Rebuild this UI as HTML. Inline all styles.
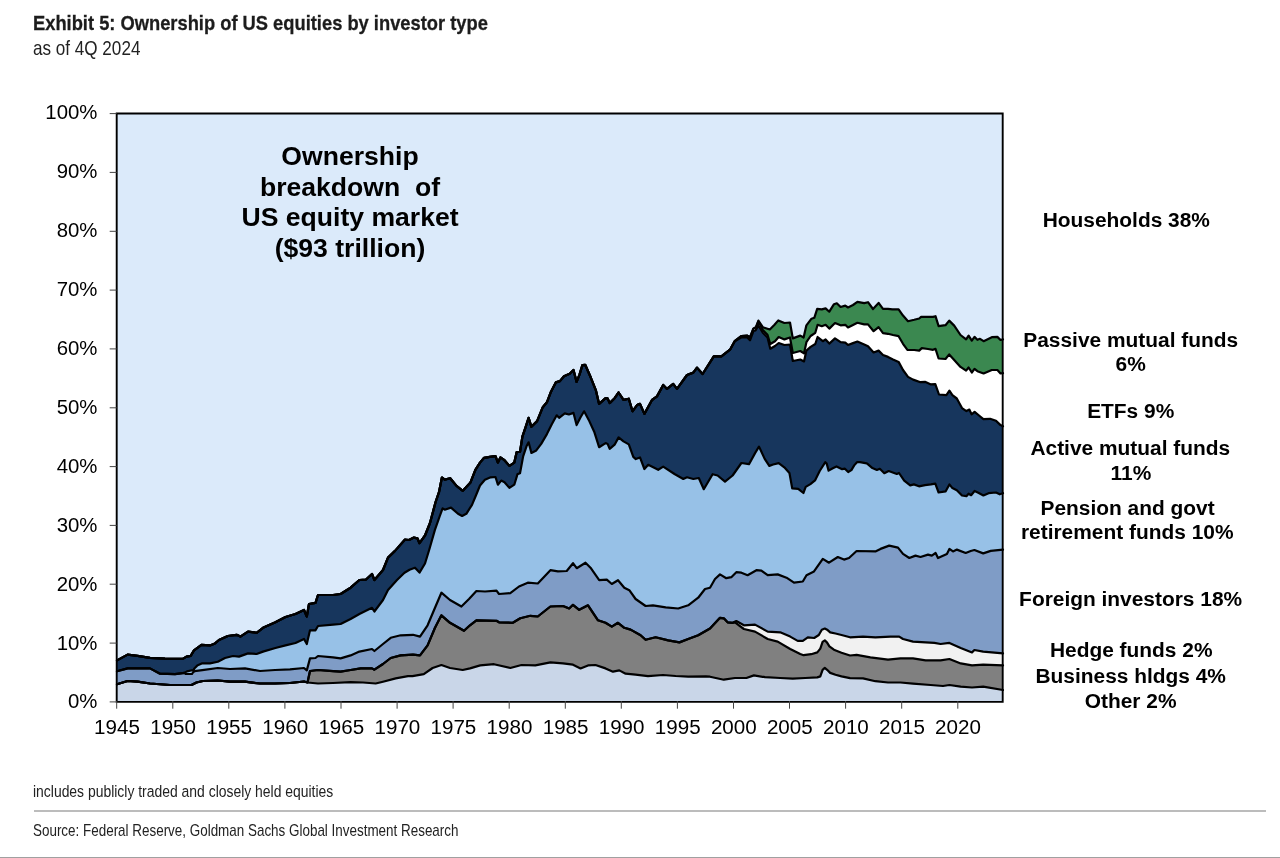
<!DOCTYPE html>
<html><head><meta charset="utf-8"><title>Exhibit 5</title>
<style>
html,body{margin:0;padding:0;background:#fff;}
body{width:1280px;height:858px;position:relative;overflow:hidden;font-family:"Liberation Sans",sans-serif;color:#222;}
.t{position:absolute;white-space:nowrap;transform-origin:0 0;}
#title{left:32.6px;top:11.1px;font-size:21px;line-height:24px;font-weight:bold;transform:scaleX(.872);color:#1c1c1c;-webkit-text-stroke:.3px #1c1c1c;}
#sub{left:32.8px;top:36.3px;font-size:20.8px;line-height:24px;transform:scaleX(.822);color:#222;}
#note{left:33.3px;top:780.5px;font-size:17.2px;line-height:20px;transform:scaleX(.81);color:#222;}
#src{left:33.3px;top:820.5px;font-size:17px;line-height:20px;transform:scaleX(.79);color:#222;}
#hr1{position:absolute;left:33.5px;top:810.4px;width:1232.5px;height:1.6px;background:#bcbcbc;}
#hr2{position:absolute;left:0;top:856.8px;width:1280px;height:1.2px;background:#a0a0a0;}
svg{position:absolute;left:0;top:0;}
svg text{font-family:"Liberation Sans",sans-serif;fill:#000;}
.ax text{font-size:19.4px;}
.ax text.xl{font-size:20px;}
.big text{font-size:26.2px;font-weight:bold;}
.lab text{font-size:19.4px;font-weight:bold;}
</style></head><body>
<div id="title" class="t">Exhibit 5: Ownership of US equities by investor type</div>
<div id="sub" class="t">as of 4Q 2024</div>
<svg width="1280" height="858" viewBox="0 0 1280 858">
<rect x="117" y="113" width="886" height="588" fill="#dbeafa"/>
<polygon fill="#3b8850" points="117.0,660.4 127.6,654.6 137.6,655.9 150.0,657.9 165.0,658.6 182.7,658.9 186.5,656.6 190.7,655.9 194.0,650.4 201.5,644.9 210.0,645.4 215.0,643.4 219.0,640.0 227.8,636.0 236.6,634.8 240.4,636.6 248.0,631.6 256.6,632.8 263.0,627.8 275.4,622.3 285.5,617.0 295.5,614.0 304.0,610.0 306.8,616.5 309.0,604.0 315.5,602.8 318.0,595.0 333.0,595.0 340.6,594.0 350.6,587.7 359.4,580.0 365.7,579.7 372.0,574.0 374.4,580.0 383.0,570.0 388.0,557.6 395.0,550.9 404.8,539.7 409.0,540.0 413.9,537.6 417.4,538.3 419.5,543.2 425.0,535.5 430.0,523.0 435.6,502.0 439.0,492.2 441.9,477.5 444.7,479.6 450.2,478.2 456.5,485.9 462.8,490.8 470.5,482.4 475.4,469.8 480.0,462.6 484.1,457.8 489.8,456.9 495.5,456.1 497.9,462.6 500.4,457.4 504.5,460.2 509.4,465.9 514.3,462.6 516.7,452.0 520.0,452.0 522.4,436.6 525.7,426.8 528.6,417.8 531.4,426.8 537.1,421.1 542.8,407.2 546.9,402.3 551.0,391.7 555.8,382.4 559.9,381.1 564.0,376.2 569.7,373.8 573.5,370.0 576.6,381.9 579.5,374.6 582.4,365.1 585.2,364.8 590.9,377.8 595.8,390.1 599.1,403.9 605.6,398.2 607.6,398.4 609.7,403.1 614.6,398.2 618.6,392.5 623.5,399.9 628.8,398.7 632.5,411.3 637.4,404.7 640.0,403.9 644.4,413.9 652.0,400.0 657.0,396.4 663.2,385.0 667.0,388.9 673.2,383.9 677.0,388.9 687.0,375.0 693.3,372.6 697.0,367.6 702.6,374.0 713.8,356.4 721.4,356.4 730.0,349.7 734.7,341.2 741.2,336.0 747.3,335.6 750.0,337.5 753.4,328.6 756.0,327.2 758.4,320.6 762.8,327.2 769.8,329.5 774.5,324.8 778.3,320.4 784.4,323.0 790.0,322.5 792.8,338.4 800.3,335.6 803.6,337.5 806.4,325.3 811.5,318.7 814.3,317.8 817.2,308.9 821.8,309.4 825.6,308.4 829.3,311.7 834.0,304.2 836.8,303.3 840.6,307.0 845.3,305.6 848.0,307.5 853.0,305.0 857.4,301.9 864.2,303.1 868.0,302.2 873.0,309.0 878.6,302.9 883.0,308.8 888.0,308.8 892.4,309.4 898.6,309.4 903.0,315.6 908.0,321.2 914.2,319.8 919.2,318.5 921.1,316.9 928.0,316.9 933.0,316.9 935.5,316.2 938.6,326.2 945.5,325.2 949.2,320.6 954.2,325.6 960.5,335.0 966.1,339.4 968.6,335.6 971.8,340.6 974.5,336.9 977.4,339.8 980.0,338.8 983.6,341.2 991.8,337.2 997.4,336.9 1000.5,340.0 1003.0,339.4 1003,701 117,701"/>
<polygon fill="#ffffff" points="117.0,660.4 127.6,654.6 137.6,655.9 150.0,657.9 165.0,658.6 182.7,658.9 186.5,656.6 190.7,655.9 194.0,650.4 201.5,644.9 210.0,645.4 215.0,643.4 219.0,640.0 227.8,636.0 236.6,634.8 240.4,636.6 248.0,631.6 256.6,632.8 263.0,627.8 275.4,622.3 285.5,617.0 295.5,614.0 304.0,610.0 306.8,616.5 309.0,604.0 315.5,602.8 318.0,595.0 333.0,595.0 340.6,594.0 350.6,587.7 359.4,580.0 365.7,579.7 372.0,574.0 374.4,580.0 383.0,570.0 388.0,557.6 395.0,550.9 404.8,539.7 409.0,540.0 413.9,537.6 417.4,538.3 419.5,543.2 425.0,535.5 430.0,523.0 435.6,502.0 439.0,492.2 441.9,477.5 444.7,479.6 450.2,478.2 456.5,485.9 462.8,490.8 470.5,482.4 475.4,469.8 480.0,462.6 484.1,457.8 489.8,456.9 495.5,456.1 497.9,462.6 500.4,457.4 504.5,460.2 509.4,465.9 514.3,462.6 516.7,452.0 520.0,452.0 522.4,436.6 525.7,426.8 528.6,417.8 531.4,426.8 537.1,421.1 542.8,407.2 546.9,402.3 551.0,391.7 555.8,382.4 559.9,381.1 564.0,376.2 569.7,373.8 573.5,370.0 576.6,381.9 579.5,374.6 582.4,365.1 585.2,364.8 590.9,377.8 595.8,390.1 599.1,403.9 605.6,398.2 607.6,398.4 609.7,403.1 614.6,398.2 618.6,392.5 623.5,399.9 628.8,398.7 632.5,411.3 637.4,404.7 640.0,403.9 644.4,413.9 652.0,400.0 657.0,396.4 663.2,385.0 667.0,388.9 673.2,383.9 677.0,388.9 687.0,375.0 693.3,372.6 697.0,367.6 702.6,374.0 713.8,356.4 721.4,356.4 730.0,349.7 734.7,341.2 741.2,336.0 747.3,335.6 750.0,337.5 753.4,328.6 756.0,327.2 758.4,321.5 762.8,330.0 767.5,334.7 770.3,344.0 775.0,341.2 778.7,337.0 784.4,339.4 790.0,337.5 792.8,353.0 800.3,351.0 804.0,353.4 806.4,342.2 810.6,336.0 815.3,332.8 817.6,324.8 821.8,326.2 825.6,324.8 829.3,328.6 835.0,323.0 840.6,325.3 845.3,324.8 848.0,327.5 853.0,325.0 857.4,322.8 864.2,324.4 868.0,324.4 873.6,331.2 878.6,327.2 883.0,333.1 888.0,333.8 893.0,335.0 898.6,336.2 903.0,343.8 907.4,349.8 914.2,350.0 919.2,350.6 921.8,348.1 928.0,349.0 933.0,349.8 935.5,348.8 938.6,358.5 945.5,359.0 949.2,354.4 954.2,360.0 960.5,366.9 966.1,370.6 968.6,367.5 971.8,372.5 974.5,368.8 977.4,371.2 983.6,373.5 991.8,370.0 997.4,370.0 1000.5,373.5 1003.0,373.1 1003,701 117,701"/>
<polygon fill="#17365d" points="117.0,660.4 127.6,654.6 137.6,655.9 150.0,657.9 165.0,658.6 182.7,658.9 186.5,656.6 190.7,655.9 194.0,650.4 201.5,644.9 210.0,645.4 215.0,643.4 219.0,640.0 227.8,636.0 236.6,634.8 240.4,636.6 248.0,631.6 256.6,632.8 263.0,627.8 275.4,622.3 285.5,617.0 295.5,614.0 304.0,610.0 306.8,616.5 309.0,604.0 315.5,602.8 318.0,595.0 333.0,595.0 340.6,594.0 350.6,587.7 359.4,580.0 365.7,579.7 372.0,574.0 374.4,580.0 383.0,570.0 388.0,557.6 395.0,550.9 404.8,539.7 409.0,540.0 413.9,537.6 417.4,538.3 419.5,543.2 425.0,535.5 430.0,523.0 435.6,502.0 439.0,492.2 441.9,477.5 444.7,479.6 450.2,478.2 456.5,485.9 462.8,490.8 470.5,482.4 475.4,469.8 480.0,462.6 484.1,457.8 489.8,456.9 495.5,456.1 497.9,462.6 500.4,457.4 504.5,460.2 509.4,465.9 514.3,462.6 516.7,452.0 520.0,452.0 522.4,436.6 525.7,426.8 528.6,417.8 531.4,426.8 537.1,421.1 542.8,407.2 546.9,402.3 551.0,391.7 555.8,382.4 559.9,381.1 564.0,376.2 569.7,373.8 573.5,370.0 576.6,381.9 579.5,374.6 582.4,365.1 585.2,364.8 590.9,377.8 595.8,390.1 599.1,403.9 605.6,398.2 607.6,398.4 609.7,403.1 614.6,398.2 618.6,392.5 623.5,399.9 628.8,398.7 632.5,411.3 637.4,404.7 640.0,403.9 644.4,413.9 652.0,400.0 657.0,396.4 663.2,385.0 667.0,388.9 673.2,383.9 677.0,388.9 687.0,375.0 693.3,372.6 697.0,367.6 702.6,374.0 713.8,356.4 721.4,356.4 730.0,349.7 734.7,341.2 741.2,337.5 747.3,337.5 750.0,340.3 753.4,331.0 755.5,330.5 758.4,325.5 762.8,332.8 767.5,337.5 770.3,348.7 775.0,346.0 778.7,343.0 784.4,345.0 790.0,344.5 792.8,361.0 800.3,359.5 804.0,361.4 806.4,350.6 810.6,346.9 815.3,344.0 817.6,337.0 822.8,341.2 825.6,339.4 829.3,343.6 835.0,338.4 840.6,342.2 845.3,342.6 848.0,345.0 853.0,343.1 857.4,341.5 864.2,344.4 868.0,346.2 873.6,352.5 878.6,350.6 883.0,355.0 888.0,356.9 893.0,359.4 898.6,361.9 903.0,370.0 908.0,376.9 913.1,379.6 920.5,382.2 925.0,381.8 930.9,384.4 935.3,384.1 939.0,394.5 946.4,395.2 949.4,390.7 952.4,395.2 956.8,398.5 962.0,408.1 966.4,411.1 969.4,409.6 971.6,414.3 974.6,411.8 979.0,415.5 983.4,419.2 990.1,418.8 996.0,420.7 1000.5,425.1 1003.0,426.2 1003,701 117,701"/>
<polygon fill="#97c1e7" points="117.0,671.2 127.6,668.4 150.0,668.4 160.0,673.7 175.0,674.2 184.4,672.9 187.0,671.4 192.0,670.3 193.3,670.3 194.6,668.2 197.2,665.6 202.3,663.3 210.0,663.4 217.8,661.7 225.0,658.0 233.0,656.0 239.0,656.6 248.0,653.4 256.6,654.0 263.0,651.6 275.4,648.0 285.5,645.4 295.5,643.0 304.0,639.0 306.8,644.0 310.0,630.3 315.5,630.3 318.0,626.0 333.0,624.6 340.6,624.0 350.6,619.0 359.4,614.0 372.0,607.8 374.4,611.5 383.0,600.0 388.0,590.0 397.0,580.0 404.5,572.7 409.5,569.7 415.0,567.7 419.5,572.6 425.0,563.5 429.3,549.5 434.9,529.9 439.8,516.0 442.6,508.3 444.7,509.7 451.0,507.6 458.0,513.8 462.1,516.0 466.3,513.8 472.0,504.8 476.1,495.0 480.0,485.5 484.9,479.8 490.6,477.3 495.5,477.0 497.9,484.7 501.2,480.6 504.5,482.2 509.4,487.9 514.3,484.7 517.5,474.1 520.0,473.3 523.2,456.1 526.5,446.3 528.6,442.3 531.4,452.9 536.3,450.4 541.2,443.9 546.9,434.1 551.8,424.3 556.7,415.3 559.1,417.8 564.8,413.4 568.9,414.5 573.5,412.9 576.6,425.1 580.3,417.8 584.1,411.3 589.3,421.1 594.2,431.7 599.1,447.2 605.6,443.1 607.6,443.9 609.7,448.8 614.6,444.7 618.6,437.4 623.5,441.4 628.8,444.4 633.3,456.9 635.8,459.1 640.0,457.4 644.4,469.0 648.2,464.8 658.2,469.8 663.2,466.6 674.5,474.0 683.3,479.0 687.0,477.3 693.3,479.0 698.8,478.0 703.8,489.2 712.6,474.2 717.6,475.5 725.0,481.7 732.6,475.5 741.4,463.0 749.0,464.2 755.2,452.9 759.0,446.6 760.0,448.7 764.7,458.9 769.3,465.9 773.1,464.5 778.7,463.1 784.3,467.3 789.4,472.9 792.2,488.3 798.2,488.8 803.4,493.0 805.7,486.9 810.4,484.1 815.0,480.4 819.7,471.0 825.3,462.2 826.7,463.6 828.6,470.6 832.8,468.2 836.5,466.4 842.1,469.2 844.9,468.7 848.2,472.0 851.4,470.1 854.2,465.4 857.0,462.2 860.0,462.2 866.7,463.4 867.2,463.6 872.4,468.1 876.9,470.0 879.8,468.8 884.3,473.2 888.7,471.0 896.8,474.0 899.0,473.0 904.2,480.7 910.2,485.4 913.9,484.4 919.0,486.3 925.0,485.1 930.9,484.4 935.3,483.6 938.6,492.5 945.7,491.3 949.4,484.4 952.4,488.1 956.8,490.3 962.0,495.5 966.4,496.2 968.6,493.7 971.1,495.2 974.6,491.0 978.3,492.8 983.4,495.5 988.6,493.2 996.0,492.5 999.7,494.3 1003.0,493.2 1003,701 117,701"/>
<polygon fill="#7f9cc6" points="117.0,671.2 127.6,668.4 150.0,668.4 160.0,673.7 175.0,674.2 184.4,672.9 185.6,674.0 192.0,674.0 193.3,672.0 194.6,671.2 202.3,670.1 217.8,668.0 230.0,669.0 245.0,668.4 260.0,671.0 275.0,670.0 290.0,669.4 304.0,668.0 306.8,670.4 310.0,658.4 315.5,658.0 318.0,656.0 333.0,657.4 340.6,658.4 350.6,655.4 359.4,651.6 372.0,649.0 374.4,651.0 383.0,644.0 390.7,637.8 400.7,635.3 413.0,634.8 420.0,636.6 427.6,625.3 435.0,607.8 441.4,592.7 450.0,600.0 461.4,606.5 469.0,599.0 476.4,591.0 485.0,591.5 496.5,590.7 499.0,594.0 510.3,593.2 519.0,586.5 527.8,582.7 537.8,583.5 550.4,570.2 557.9,571.4 566.7,571.0 573.0,563.2 576.7,568.2 585.5,562.7 590.5,567.7 599.2,580.2 606.8,579.7 611.8,584.0 618.0,580.2 624.3,587.7 629.3,590.2 635.6,599.0 645.6,606.0 653.0,605.3 665.7,607.3 678.2,608.5 688.2,605.3 698.2,597.7 705.0,589.0 710.0,587.7 715.0,579.0 720.0,574.4 726.3,578.2 731.3,577.2 736.3,572.2 741.4,572.7 747.6,575.2 756.4,570.2 761.4,570.7 767.7,575.2 777.7,574.4 786.5,577.7 794.0,582.7 802.8,581.5 806.5,575.2 814.0,571.4 822.8,558.9 829.0,562.7 837.8,557.0 844.0,559.6 849.0,558.0 856.6,551.0 875.4,551.4 880.5,548.9 889.2,545.6 898.0,547.6 903.0,553.9 909.3,558.0 915.5,555.6 920.5,557.0 928.0,554.6 931.8,555.6 935.6,553.0 938.0,558.0 946.9,553.9 949.4,548.9 953.0,551.4 956.9,549.6 965.7,553.0 970.7,551.0 974.4,550.0 983.2,553.4 990.7,550.9 1003.0,549.6 1003,701 117,701"/>
<polygon fill="#f1f1f1" points="117.0,684.2 127.6,681.0 137.6,681.7 150.0,683.5 170.0,685.0 191.5,685.0 196.5,682.5 202.8,681.0 217.8,680.5 230.0,681.7 245.0,681.7 260.0,683.5 275.0,683.5 290.0,683.0 304.0,681.5 307.5,682.5 310.0,671.0 318.0,670.0 333.0,671.2 340.6,671.7 350.6,670.0 360.7,668.4 372.0,668.4 374.4,669.7 383.0,664.0 390.7,658.0 400.7,655.4 413.0,654.6 420.0,655.4 427.6,645.4 435.0,627.8 441.4,615.3 450.0,622.8 464.0,630.8 470.0,625.3 476.4,620.3 496.5,620.8 499.0,622.3 512.8,622.8 520.3,618.3 530.3,615.8 537.8,616.5 550.4,606.5 563.0,606.0 569.2,608.5 573.0,604.8 579.2,609.8 588.0,605.3 598.0,620.3 605.5,622.8 611.8,626.6 618.0,622.8 624.3,627.8 630.6,629.6 640.6,635.3 645.6,639.8 655.6,637.3 668.2,640.4 679.4,642.4 688.2,639.0 698.2,635.3 710.0,628.5 720.0,617.8 723.8,618.3 727.6,622.3 732.6,622.8 736.3,621.0 743.9,625.3 755.0,624.6 767.7,631.6 780.2,632.3 790.2,636.6 797.7,640.9 802.8,640.9 807.8,637.3 814.2,638.0 818.8,635.0 821.8,629.7 824.8,628.5 827.1,629.7 830.2,632.4 835.5,633.5 841.5,635.0 850.0,637.3 863.0,636.6 875.4,637.3 890.5,636.6 899.2,636.6 903.0,639.0 913.0,641.6 925.6,642.4 934.4,642.9 940.6,644.0 949.4,642.9 960.7,647.9 972.0,652.4 974.4,650.0 983.2,651.6 1003.0,653.4 1003,701 117,701"/>
<polygon fill="#808080" points="117.0,684.2 127.6,681.0 137.6,681.7 150.0,683.5 170.0,685.0 191.5,685.0 196.5,682.5 202.8,681.0 217.8,680.5 230.0,681.7 245.0,681.7 260.0,683.5 275.0,683.5 290.0,683.0 304.0,681.5 307.5,682.5 310.0,671.0 318.0,670.0 333.0,671.2 340.6,671.7 350.6,670.0 360.7,668.4 372.0,668.4 374.4,669.7 383.0,664.0 390.7,658.0 400.7,655.4 413.0,654.6 420.0,655.4 427.6,645.4 435.0,627.8 441.4,615.3 450.0,622.8 464.0,630.8 470.0,625.3 476.4,620.3 496.5,620.8 499.0,622.3 512.8,622.8 520.3,618.3 530.3,615.8 537.8,616.5 550.4,606.5 563.0,606.0 569.2,608.5 573.0,604.8 579.2,609.8 588.0,605.3 598.0,620.3 605.5,622.8 611.8,626.6 618.0,622.8 624.3,627.8 630.6,629.6 640.6,635.3 645.6,639.8 655.6,637.3 668.2,640.4 679.4,642.4 688.2,639.0 698.2,635.3 710.0,628.5 720.0,617.8 723.8,618.3 727.6,622.3 732.6,622.8 735.0,622.3 743.9,629.0 755.0,631.6 767.7,639.0 777.7,641.6 790.2,649.0 800.2,654.0 803.6,655.2 811.2,654.2 817.3,652.4 820.3,648.6 822.6,641.8 824.8,640.3 827.1,642.6 829.4,646.4 833.9,649.7 841.5,652.7 850.0,655.5 856.6,654.9 870.4,657.4 888.0,659.6 900.5,658.4 913.0,658.4 925.6,660.4 940.6,660.4 949.4,659.0 960.7,663.4 972.0,665.4 983.2,664.7 1003.0,665.4 1003,701 117,701"/>
<polygon fill="#c9d6e8" points="117.0,684.2 127.6,681.0 137.6,681.7 150.0,683.5 170.0,685.0 191.5,685.0 196.5,682.5 202.8,681.0 217.8,680.5 230.0,681.7 245.0,681.7 260.0,683.5 275.0,683.5 290.0,683.0 304.0,681.5 307.5,682.5 318.0,683.5 333.0,683.0 350.6,682.2 363.0,682.5 375.7,683.5 383.0,681.7 395.7,678.4 408.0,676.2 412.5,676.2 423.8,674.2 432.6,668.0 441.4,665.0 450.0,668.0 462.7,670.0 470.0,668.4 480.2,665.4 494.0,664.2 510.3,668.0 521.5,665.0 535.3,665.4 550.4,662.4 563.0,663.4 573.0,664.7 580.5,668.4 588.0,665.4 595.5,665.0 605.5,668.4 613.0,671.7 619.3,670.4 625.6,673.7 635.6,674.7 648.0,676.2 663.0,675.0 675.7,676.0 688.2,676.7 705.8,676.4 710.0,676.7 723.8,679.7 735.0,678.0 746.4,678.0 753.9,675.4 765.0,677.2 780.2,678.0 792.7,678.7 805.3,678.0 817.3,677.4 820.3,676.4 822.6,669.8 824.8,667.9 827.1,669.8 830.2,672.9 835.5,674.8 841.5,676.4 850.0,678.2 863.0,678.4 875.4,681.2 888.0,682.5 900.5,682.5 913.0,683.7 930.6,685.0 943.0,686.0 949.4,685.0 960.7,686.7 972.0,687.5 983.2,686.7 1003.0,690.0 1003,701 117,701"/>
<g fill="none" stroke="#000" stroke-width="2.2" stroke-linejoin="round" stroke-linecap="round">
<polyline points="117.0,660.4 127.6,654.6 137.6,655.9 150.0,657.9 165.0,658.6 182.7,658.9 186.5,656.6 190.7,655.9 194.0,650.4 201.5,644.9 210.0,645.4 215.0,643.4 219.0,640.0 227.8,636.0 236.6,634.8 240.4,636.6 248.0,631.6 256.6,632.8 263.0,627.8 275.4,622.3 285.5,617.0 295.5,614.0 304.0,610.0 306.8,616.5 309.0,604.0 315.5,602.8 318.0,595.0 333.0,595.0 340.6,594.0 350.6,587.7 359.4,580.0 365.7,579.7 372.0,574.0 374.4,580.0 383.0,570.0 388.0,557.6 395.0,550.9 404.8,539.7 409.0,540.0 413.9,537.6 417.4,538.3 419.5,543.2 425.0,535.5 430.0,523.0 435.6,502.0 439.0,492.2 441.9,477.5 444.7,479.6 450.2,478.2 456.5,485.9 462.8,490.8 470.5,482.4 475.4,469.8 480.0,462.6 484.1,457.8 489.8,456.9 495.5,456.1 497.9,462.6 500.4,457.4 504.5,460.2 509.4,465.9 514.3,462.6 516.7,452.0 520.0,452.0 522.4,436.6 525.7,426.8 528.6,417.8 531.4,426.8 537.1,421.1 542.8,407.2 546.9,402.3 551.0,391.7 555.8,382.4 559.9,381.1 564.0,376.2 569.7,373.8 573.5,370.0 576.6,381.9 579.5,374.6 582.4,365.1 585.2,364.8 590.9,377.8 595.8,390.1 599.1,403.9 605.6,398.2 607.6,398.4 609.7,403.1 614.6,398.2 618.6,392.5 623.5,399.9 628.8,398.7 632.5,411.3 637.4,404.7 640.0,403.9 644.4,413.9 652.0,400.0 657.0,396.4 663.2,385.0 667.0,388.9 673.2,383.9 677.0,388.9 687.0,375.0 693.3,372.6 697.0,367.6 702.6,374.0 713.8,356.4 721.4,356.4 730.0,349.7 734.7,341.2 741.2,336.0 747.3,335.6 750.0,337.5 753.4,328.6 756.0,327.2 758.4,320.6 762.8,327.2 769.8,329.5 774.5,324.8 778.3,320.4 784.4,323.0 790.0,322.5 792.8,338.4 800.3,335.6 803.6,337.5 806.4,325.3 811.5,318.7 814.3,317.8 817.2,308.9 821.8,309.4 825.6,308.4 829.3,311.7 834.0,304.2 836.8,303.3 840.6,307.0 845.3,305.6 848.0,307.5 853.0,305.0 857.4,301.9 864.2,303.1 868.0,302.2 873.0,309.0 878.6,302.9 883.0,308.8 888.0,308.8 892.4,309.4 898.6,309.4 903.0,315.6 908.0,321.2 914.2,319.8 919.2,318.5 921.1,316.9 928.0,316.9 933.0,316.9 935.5,316.2 938.6,326.2 945.5,325.2 949.2,320.6 954.2,325.6 960.5,335.0 966.1,339.4 968.6,335.6 971.8,340.6 974.5,336.9 977.4,339.8 980.0,338.8 983.6,341.2 991.8,337.2 997.4,336.9 1000.5,340.0 1003.0,339.4"/>
<polyline points="117.0,660.4 127.6,654.6 137.6,655.9 150.0,657.9 165.0,658.6 182.7,658.9 186.5,656.6 190.7,655.9 194.0,650.4 201.5,644.9 210.0,645.4 215.0,643.4 219.0,640.0 227.8,636.0 236.6,634.8 240.4,636.6 248.0,631.6 256.6,632.8 263.0,627.8 275.4,622.3 285.5,617.0 295.5,614.0 304.0,610.0 306.8,616.5 309.0,604.0 315.5,602.8 318.0,595.0 333.0,595.0 340.6,594.0 350.6,587.7 359.4,580.0 365.7,579.7 372.0,574.0 374.4,580.0 383.0,570.0 388.0,557.6 395.0,550.9 404.8,539.7 409.0,540.0 413.9,537.6 417.4,538.3 419.5,543.2 425.0,535.5 430.0,523.0 435.6,502.0 439.0,492.2 441.9,477.5 444.7,479.6 450.2,478.2 456.5,485.9 462.8,490.8 470.5,482.4 475.4,469.8 480.0,462.6 484.1,457.8 489.8,456.9 495.5,456.1 497.9,462.6 500.4,457.4 504.5,460.2 509.4,465.9 514.3,462.6 516.7,452.0 520.0,452.0 522.4,436.6 525.7,426.8 528.6,417.8 531.4,426.8 537.1,421.1 542.8,407.2 546.9,402.3 551.0,391.7 555.8,382.4 559.9,381.1 564.0,376.2 569.7,373.8 573.5,370.0 576.6,381.9 579.5,374.6 582.4,365.1 585.2,364.8 590.9,377.8 595.8,390.1 599.1,403.9 605.6,398.2 607.6,398.4 609.7,403.1 614.6,398.2 618.6,392.5 623.5,399.9 628.8,398.7 632.5,411.3 637.4,404.7 640.0,403.9 644.4,413.9 652.0,400.0 657.0,396.4 663.2,385.0 667.0,388.9 673.2,383.9 677.0,388.9 687.0,375.0 693.3,372.6 697.0,367.6 702.6,374.0 713.8,356.4 721.4,356.4 730.0,349.7 734.7,341.2 741.2,336.0 747.3,335.6 750.0,337.5 753.4,328.6 756.0,327.2 758.4,321.5 762.8,330.0 767.5,334.7 770.3,344.0 775.0,341.2 778.7,337.0 784.4,339.4 790.0,337.5 792.8,353.0 800.3,351.0 804.0,353.4 806.4,342.2 810.6,336.0 815.3,332.8 817.6,324.8 821.8,326.2 825.6,324.8 829.3,328.6 835.0,323.0 840.6,325.3 845.3,324.8 848.0,327.5 853.0,325.0 857.4,322.8 864.2,324.4 868.0,324.4 873.6,331.2 878.6,327.2 883.0,333.1 888.0,333.8 893.0,335.0 898.6,336.2 903.0,343.8 907.4,349.8 914.2,350.0 919.2,350.6 921.8,348.1 928.0,349.0 933.0,349.8 935.5,348.8 938.6,358.5 945.5,359.0 949.2,354.4 954.2,360.0 960.5,366.9 966.1,370.6 968.6,367.5 971.8,372.5 974.5,368.8 977.4,371.2 983.6,373.5 991.8,370.0 997.4,370.0 1000.5,373.5 1003.0,373.1"/>
<polyline points="117.0,660.4 127.6,654.6 137.6,655.9 150.0,657.9 165.0,658.6 182.7,658.9 186.5,656.6 190.7,655.9 194.0,650.4 201.5,644.9 210.0,645.4 215.0,643.4 219.0,640.0 227.8,636.0 236.6,634.8 240.4,636.6 248.0,631.6 256.6,632.8 263.0,627.8 275.4,622.3 285.5,617.0 295.5,614.0 304.0,610.0 306.8,616.5 309.0,604.0 315.5,602.8 318.0,595.0 333.0,595.0 340.6,594.0 350.6,587.7 359.4,580.0 365.7,579.7 372.0,574.0 374.4,580.0 383.0,570.0 388.0,557.6 395.0,550.9 404.8,539.7 409.0,540.0 413.9,537.6 417.4,538.3 419.5,543.2 425.0,535.5 430.0,523.0 435.6,502.0 439.0,492.2 441.9,477.5 444.7,479.6 450.2,478.2 456.5,485.9 462.8,490.8 470.5,482.4 475.4,469.8 480.0,462.6 484.1,457.8 489.8,456.9 495.5,456.1 497.9,462.6 500.4,457.4 504.5,460.2 509.4,465.9 514.3,462.6 516.7,452.0 520.0,452.0 522.4,436.6 525.7,426.8 528.6,417.8 531.4,426.8 537.1,421.1 542.8,407.2 546.9,402.3 551.0,391.7 555.8,382.4 559.9,381.1 564.0,376.2 569.7,373.8 573.5,370.0 576.6,381.9 579.5,374.6 582.4,365.1 585.2,364.8 590.9,377.8 595.8,390.1 599.1,403.9 605.6,398.2 607.6,398.4 609.7,403.1 614.6,398.2 618.6,392.5 623.5,399.9 628.8,398.7 632.5,411.3 637.4,404.7 640.0,403.9 644.4,413.9 652.0,400.0 657.0,396.4 663.2,385.0 667.0,388.9 673.2,383.9 677.0,388.9 687.0,375.0 693.3,372.6 697.0,367.6 702.6,374.0 713.8,356.4 721.4,356.4 730.0,349.7 734.7,341.2 741.2,337.5 747.3,337.5 750.0,340.3 753.4,331.0 755.5,330.5 758.4,325.5 762.8,332.8 767.5,337.5 770.3,348.7 775.0,346.0 778.7,343.0 784.4,345.0 790.0,344.5 792.8,361.0 800.3,359.5 804.0,361.4 806.4,350.6 810.6,346.9 815.3,344.0 817.6,337.0 822.8,341.2 825.6,339.4 829.3,343.6 835.0,338.4 840.6,342.2 845.3,342.6 848.0,345.0 853.0,343.1 857.4,341.5 864.2,344.4 868.0,346.2 873.6,352.5 878.6,350.6 883.0,355.0 888.0,356.9 893.0,359.4 898.6,361.9 903.0,370.0 908.0,376.9 913.1,379.6 920.5,382.2 925.0,381.8 930.9,384.4 935.3,384.1 939.0,394.5 946.4,395.2 949.4,390.7 952.4,395.2 956.8,398.5 962.0,408.1 966.4,411.1 969.4,409.6 971.6,414.3 974.6,411.8 979.0,415.5 983.4,419.2 990.1,418.8 996.0,420.7 1000.5,425.1 1003.0,426.2"/>
<polyline points="117.0,671.2 127.6,668.4 150.0,668.4 160.0,673.7 175.0,674.2 184.4,672.9 187.0,671.4 192.0,670.3 193.3,670.3 194.6,668.2 197.2,665.6 202.3,663.3 210.0,663.4 217.8,661.7 225.0,658.0 233.0,656.0 239.0,656.6 248.0,653.4 256.6,654.0 263.0,651.6 275.4,648.0 285.5,645.4 295.5,643.0 304.0,639.0 306.8,644.0 310.0,630.3 315.5,630.3 318.0,626.0 333.0,624.6 340.6,624.0 350.6,619.0 359.4,614.0 372.0,607.8 374.4,611.5 383.0,600.0 388.0,590.0 397.0,580.0 404.5,572.7 409.5,569.7 415.0,567.7 419.5,572.6 425.0,563.5 429.3,549.5 434.9,529.9 439.8,516.0 442.6,508.3 444.7,509.7 451.0,507.6 458.0,513.8 462.1,516.0 466.3,513.8 472.0,504.8 476.1,495.0 480.0,485.5 484.9,479.8 490.6,477.3 495.5,477.0 497.9,484.7 501.2,480.6 504.5,482.2 509.4,487.9 514.3,484.7 517.5,474.1 520.0,473.3 523.2,456.1 526.5,446.3 528.6,442.3 531.4,452.9 536.3,450.4 541.2,443.9 546.9,434.1 551.8,424.3 556.7,415.3 559.1,417.8 564.8,413.4 568.9,414.5 573.5,412.9 576.6,425.1 580.3,417.8 584.1,411.3 589.3,421.1 594.2,431.7 599.1,447.2 605.6,443.1 607.6,443.9 609.7,448.8 614.6,444.7 618.6,437.4 623.5,441.4 628.8,444.4 633.3,456.9 635.8,459.1 640.0,457.4 644.4,469.0 648.2,464.8 658.2,469.8 663.2,466.6 674.5,474.0 683.3,479.0 687.0,477.3 693.3,479.0 698.8,478.0 703.8,489.2 712.6,474.2 717.6,475.5 725.0,481.7 732.6,475.5 741.4,463.0 749.0,464.2 755.2,452.9 759.0,446.6 760.0,448.7 764.7,458.9 769.3,465.9 773.1,464.5 778.7,463.1 784.3,467.3 789.4,472.9 792.2,488.3 798.2,488.8 803.4,493.0 805.7,486.9 810.4,484.1 815.0,480.4 819.7,471.0 825.3,462.2 826.7,463.6 828.6,470.6 832.8,468.2 836.5,466.4 842.1,469.2 844.9,468.7 848.2,472.0 851.4,470.1 854.2,465.4 857.0,462.2 860.0,462.2 866.7,463.4 867.2,463.6 872.4,468.1 876.9,470.0 879.8,468.8 884.3,473.2 888.7,471.0 896.8,474.0 899.0,473.0 904.2,480.7 910.2,485.4 913.9,484.4 919.0,486.3 925.0,485.1 930.9,484.4 935.3,483.6 938.6,492.5 945.7,491.3 949.4,484.4 952.4,488.1 956.8,490.3 962.0,495.5 966.4,496.2 968.6,493.7 971.1,495.2 974.6,491.0 978.3,492.8 983.4,495.5 988.6,493.2 996.0,492.5 999.7,494.3 1003.0,493.2"/>
<polyline points="117.0,671.2 127.6,668.4 150.0,668.4 160.0,673.7 175.0,674.2 184.4,672.9 185.6,674.0 192.0,674.0 193.3,672.0 194.6,671.2 202.3,670.1 217.8,668.0 230.0,669.0 245.0,668.4 260.0,671.0 275.0,670.0 290.0,669.4 304.0,668.0 306.8,670.4 310.0,658.4 315.5,658.0 318.0,656.0 333.0,657.4 340.6,658.4 350.6,655.4 359.4,651.6 372.0,649.0 374.4,651.0 383.0,644.0 390.7,637.8 400.7,635.3 413.0,634.8 420.0,636.6 427.6,625.3 435.0,607.8 441.4,592.7 450.0,600.0 461.4,606.5 469.0,599.0 476.4,591.0 485.0,591.5 496.5,590.7 499.0,594.0 510.3,593.2 519.0,586.5 527.8,582.7 537.8,583.5 550.4,570.2 557.9,571.4 566.7,571.0 573.0,563.2 576.7,568.2 585.5,562.7 590.5,567.7 599.2,580.2 606.8,579.7 611.8,584.0 618.0,580.2 624.3,587.7 629.3,590.2 635.6,599.0 645.6,606.0 653.0,605.3 665.7,607.3 678.2,608.5 688.2,605.3 698.2,597.7 705.0,589.0 710.0,587.7 715.0,579.0 720.0,574.4 726.3,578.2 731.3,577.2 736.3,572.2 741.4,572.7 747.6,575.2 756.4,570.2 761.4,570.7 767.7,575.2 777.7,574.4 786.5,577.7 794.0,582.7 802.8,581.5 806.5,575.2 814.0,571.4 822.8,558.9 829.0,562.7 837.8,557.0 844.0,559.6 849.0,558.0 856.6,551.0 875.4,551.4 880.5,548.9 889.2,545.6 898.0,547.6 903.0,553.9 909.3,558.0 915.5,555.6 920.5,557.0 928.0,554.6 931.8,555.6 935.6,553.0 938.0,558.0 946.9,553.9 949.4,548.9 953.0,551.4 956.9,549.6 965.7,553.0 970.7,551.0 974.4,550.0 983.2,553.4 990.7,550.9 1003.0,549.6"/>
<polyline points="117.0,684.2 127.6,681.0 137.6,681.7 150.0,683.5 170.0,685.0 191.5,685.0 196.5,682.5 202.8,681.0 217.8,680.5 230.0,681.7 245.0,681.7 260.0,683.5 275.0,683.5 290.0,683.0 304.0,681.5 307.5,682.5 310.0,671.0 318.0,670.0 333.0,671.2 340.6,671.7 350.6,670.0 360.7,668.4 372.0,668.4 374.4,669.7 383.0,664.0 390.7,658.0 400.7,655.4 413.0,654.6 420.0,655.4 427.6,645.4 435.0,627.8 441.4,615.3 450.0,622.8 464.0,630.8 470.0,625.3 476.4,620.3 496.5,620.8 499.0,622.3 512.8,622.8 520.3,618.3 530.3,615.8 537.8,616.5 550.4,606.5 563.0,606.0 569.2,608.5 573.0,604.8 579.2,609.8 588.0,605.3 598.0,620.3 605.5,622.8 611.8,626.6 618.0,622.8 624.3,627.8 630.6,629.6 640.6,635.3 645.6,639.8 655.6,637.3 668.2,640.4 679.4,642.4 688.2,639.0 698.2,635.3 710.0,628.5 720.0,617.8 723.8,618.3 727.6,622.3 732.6,622.8 736.3,621.0 743.9,625.3 755.0,624.6 767.7,631.6 780.2,632.3 790.2,636.6 797.7,640.9 802.8,640.9 807.8,637.3 814.2,638.0 818.8,635.0 821.8,629.7 824.8,628.5 827.1,629.7 830.2,632.4 835.5,633.5 841.5,635.0 850.0,637.3 863.0,636.6 875.4,637.3 890.5,636.6 899.2,636.6 903.0,639.0 913.0,641.6 925.6,642.4 934.4,642.9 940.6,644.0 949.4,642.9 960.7,647.9 972.0,652.4 974.4,650.0 983.2,651.6 1003.0,653.4"/>
<polyline points="117.0,684.2 127.6,681.0 137.6,681.7 150.0,683.5 170.0,685.0 191.5,685.0 196.5,682.5 202.8,681.0 217.8,680.5 230.0,681.7 245.0,681.7 260.0,683.5 275.0,683.5 290.0,683.0 304.0,681.5 307.5,682.5 310.0,671.0 318.0,670.0 333.0,671.2 340.6,671.7 350.6,670.0 360.7,668.4 372.0,668.4 374.4,669.7 383.0,664.0 390.7,658.0 400.7,655.4 413.0,654.6 420.0,655.4 427.6,645.4 435.0,627.8 441.4,615.3 450.0,622.8 464.0,630.8 470.0,625.3 476.4,620.3 496.5,620.8 499.0,622.3 512.8,622.8 520.3,618.3 530.3,615.8 537.8,616.5 550.4,606.5 563.0,606.0 569.2,608.5 573.0,604.8 579.2,609.8 588.0,605.3 598.0,620.3 605.5,622.8 611.8,626.6 618.0,622.8 624.3,627.8 630.6,629.6 640.6,635.3 645.6,639.8 655.6,637.3 668.2,640.4 679.4,642.4 688.2,639.0 698.2,635.3 710.0,628.5 720.0,617.8 723.8,618.3 727.6,622.3 732.6,622.8 735.0,622.3 743.9,629.0 755.0,631.6 767.7,639.0 777.7,641.6 790.2,649.0 800.2,654.0 803.6,655.2 811.2,654.2 817.3,652.4 820.3,648.6 822.6,641.8 824.8,640.3 827.1,642.6 829.4,646.4 833.9,649.7 841.5,652.7 850.0,655.5 856.6,654.9 870.4,657.4 888.0,659.6 900.5,658.4 913.0,658.4 925.6,660.4 940.6,660.4 949.4,659.0 960.7,663.4 972.0,665.4 983.2,664.7 1003.0,665.4"/>
<polyline points="117.0,684.2 127.6,681.0 137.6,681.7 150.0,683.5 170.0,685.0 191.5,685.0 196.5,682.5 202.8,681.0 217.8,680.5 230.0,681.7 245.0,681.7 260.0,683.5 275.0,683.5 290.0,683.0 304.0,681.5 307.5,682.5 318.0,683.5 333.0,683.0 350.6,682.2 363.0,682.5 375.7,683.5 383.0,681.7 395.7,678.4 408.0,676.2 412.5,676.2 423.8,674.2 432.6,668.0 441.4,665.0 450.0,668.0 462.7,670.0 470.0,668.4 480.2,665.4 494.0,664.2 510.3,668.0 521.5,665.0 535.3,665.4 550.4,662.4 563.0,663.4 573.0,664.7 580.5,668.4 588.0,665.4 595.5,665.0 605.5,668.4 613.0,671.7 619.3,670.4 625.6,673.7 635.6,674.7 648.0,676.2 663.0,675.0 675.7,676.0 688.2,676.7 705.8,676.4 710.0,676.7 723.8,679.7 735.0,678.0 746.4,678.0 753.9,675.4 765.0,677.2 780.2,678.0 792.7,678.7 805.3,678.0 817.3,677.4 820.3,676.4 822.6,669.8 824.8,667.9 827.1,669.8 830.2,672.9 835.5,674.8 841.5,676.4 850.0,678.2 863.0,678.4 875.4,681.2 888.0,682.5 900.5,682.5 913.0,683.7 930.6,685.0 943.0,686.0 949.4,685.0 960.7,686.7 972.0,687.5 983.2,686.7 1003.0,690.0"/>
</g>
<g stroke="#000" fill="none">
<path d="M116.7 113.5 H1002.7 V701.9 H116.7 Z" stroke-width="1.9"/>
<path d="M109.7 701.9 H116.7" stroke-width="1" stroke="#444"/>
<path d="M109.7 643.1 H116.7" stroke-width="1" stroke="#444"/>
<path d="M109.7 584.2 H116.7" stroke-width="1" stroke="#444"/>
<path d="M109.7 525.4 H116.7" stroke-width="1" stroke="#444"/>
<path d="M109.7 466.6 H116.7" stroke-width="1" stroke="#444"/>
<path d="M109.7 407.8 H116.7" stroke-width="1" stroke="#444"/>
<path d="M109.7 348.9 H116.7" stroke-width="1" stroke="#444"/>
<path d="M109.7 290.1 H116.7" stroke-width="1" stroke="#444"/>
<path d="M109.7 231.3 H116.7" stroke-width="1" stroke="#444"/>
<path d="M109.7 172.4 H116.7" stroke-width="1" stroke="#444"/>
<path d="M109.7 113.6 H116.7" stroke-width="1" stroke="#444"/>
<path d="M116.7 701 V708.7" stroke-width="1" stroke="#444"/>
<path d="M172.8 701 V708.7" stroke-width="1" stroke="#444"/>
<path d="M228.8 701 V708.7" stroke-width="1" stroke="#444"/>
<path d="M284.9 701 V708.7" stroke-width="1" stroke="#444"/>
<path d="M341.0 701 V708.7" stroke-width="1" stroke="#444"/>
<path d="M397.1 701 V708.7" stroke-width="1" stroke="#444"/>
<path d="M453.1 701 V708.7" stroke-width="1" stroke="#444"/>
<path d="M509.2 701 V708.7" stroke-width="1" stroke="#444"/>
<path d="M565.3 701 V708.7" stroke-width="1" stroke="#444"/>
<path d="M621.3 701 V708.7" stroke-width="1" stroke="#444"/>
<path d="M677.4 701 V708.7" stroke-width="1" stroke="#444"/>
<path d="M733.5 701 V708.7" stroke-width="1" stroke="#444"/>
<path d="M789.5 701 V708.7" stroke-width="1" stroke="#444"/>
<path d="M845.6 701 V708.7" stroke-width="1" stroke="#444"/>
<path d="M901.7 701 V708.7" stroke-width="1" stroke="#444"/>
<path d="M957.8 701 V708.7" stroke-width="1" stroke="#444"/>
</g>
<g class="ax">
<text transform="translate(97.4 708.4) scale(1.05 1)" text-anchor="end">0%</text>
<text transform="translate(97.4 649.5) scale(1.05 1)" text-anchor="end">10%</text>
<text transform="translate(97.4 590.6) scale(1.05 1)" text-anchor="end">20%</text>
<text transform="translate(97.4 531.7) scale(1.05 1)" text-anchor="end">30%</text>
<text transform="translate(97.4 472.8) scale(1.05 1)" text-anchor="end">40%</text>
<text transform="translate(97.4 413.9) scale(1.05 1)" text-anchor="end">50%</text>
<text transform="translate(97.4 355.0) scale(1.05 1)" text-anchor="end">60%</text>
<text transform="translate(97.4 296.1) scale(1.05 1)" text-anchor="end">70%</text>
<text transform="translate(97.4 237.2) scale(1.05 1)" text-anchor="end">80%</text>
<text transform="translate(97.4 178.3) scale(1.05 1)" text-anchor="end">90%</text>
<text transform="translate(97.4 119.4) scale(1.05 1)" text-anchor="end">100%</text>
<text class="xl" transform="translate(117.0 733.6) scale(1.03 1)" text-anchor="middle">1945</text>
<text class="xl" transform="translate(173.1 733.6) scale(1.03 1)" text-anchor="middle">1950</text>
<text class="xl" transform="translate(229.1 733.6) scale(1.03 1)" text-anchor="middle">1955</text>
<text class="xl" transform="translate(285.2 733.6) scale(1.03 1)" text-anchor="middle">1960</text>
<text class="xl" transform="translate(341.3 733.6) scale(1.03 1)" text-anchor="middle">1965</text>
<text class="xl" transform="translate(397.4 733.6) scale(1.03 1)" text-anchor="middle">1970</text>
<text class="xl" transform="translate(453.4 733.6) scale(1.03 1)" text-anchor="middle">1975</text>
<text class="xl" transform="translate(509.5 733.6) scale(1.03 1)" text-anchor="middle">1980</text>
<text class="xl" transform="translate(565.6 733.6) scale(1.03 1)" text-anchor="middle">1985</text>
<text class="xl" transform="translate(621.6 733.6) scale(1.03 1)" text-anchor="middle">1990</text>
<text class="xl" transform="translate(677.7 733.6) scale(1.03 1)" text-anchor="middle">1995</text>
<text class="xl" transform="translate(733.8 733.6) scale(1.03 1)" text-anchor="middle">2000</text>
<text class="xl" transform="translate(789.8 733.6) scale(1.03 1)" text-anchor="middle">2005</text>
<text class="xl" transform="translate(845.9 733.6) scale(1.03 1)" text-anchor="middle">2010</text>
<text class="xl" transform="translate(902.0 733.6) scale(1.03 1)" text-anchor="middle">2015</text>
<text class="xl" transform="translate(958.0 733.6) scale(1.03 1)" text-anchor="middle">2020</text>
</g>
<g class="big">
<text transform="translate(350.0 165.0) scale(1.015 1)" text-anchor="middle">Ownership</text>
<text transform="translate(350.0 195.6) scale(1.015 1)" text-anchor="middle">breakdown  of</text>
<text transform="translate(350.0 226.2) scale(1.015 1)" text-anchor="middle">US equity market</text>
<text transform="translate(350.0 256.8) scale(1.015 1)" text-anchor="middle">($93 trillion)</text>
</g>
<g class="lab">
<text transform="translate(1126.3 227.2) scale(1.078 1)" text-anchor="middle">Households 38%</text>
<text transform="translate(1130.7 347.3) scale(1.078 1)" text-anchor="middle">Passive mutual funds</text>
<text transform="translate(1130.7 371.2) scale(1.078 1)" text-anchor="middle">6%</text>
<text transform="translate(1130.7 417.8) scale(1.078 1)" text-anchor="middle">ETFs 9%</text>
<text transform="translate(1130.3 454.7) scale(1.078 1)" text-anchor="middle">Active mutual funds</text>
<text transform="translate(1130.9 479.6) scale(1.078 1)" text-anchor="middle">11%</text>
<text transform="translate(1127.6 514.7) scale(1.078 1)" text-anchor="middle">Pension and govt</text>
<text transform="translate(1127.2 539.1) scale(1.078 1)" text-anchor="middle">retirement funds 10%</text>
<text transform="translate(1130.6 605.6) scale(1.078 1)" text-anchor="middle">Foreign investors 18%</text>
<text transform="translate(1131.2 657.2) scale(1.078 1)" text-anchor="middle">Hedge funds 2%</text>
<text transform="translate(1130.7 682.9) scale(1.078 1)" text-anchor="middle">Business hldgs 4%</text>
<text transform="translate(1130.6 707.8) scale(1.078 1)" text-anchor="middle">Other 2%</text>
</g>
</svg>
<div id="note" class="t">includes publicly traded and closely held equities</div>
<div id="hr1"></div>
<div id="src" class="t">Source: Federal Reserve, Goldman Sachs Global Investment Research</div>
<div id="hr2"></div>
</body></html>
